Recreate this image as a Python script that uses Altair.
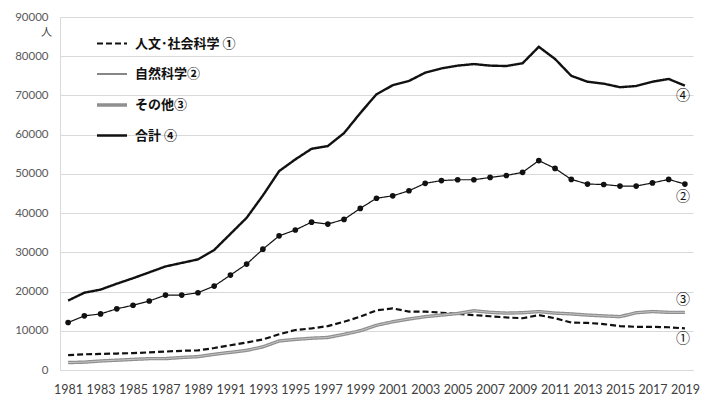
import altair as alt
import pandas as pd

years = list(range(1981, 2020))

humanities = [3800, 4000, 4100, 4200, 4300, 4500, 4700, 4900, 5000, 5600,
              6300, 7000, 7800, 9100, 10200, 10600, 11200, 12300, 13600, 15200,
              15700, 14900, 14900, 14600, 14300, 14000, 13700, 13400, 13200, 14000,
              13200, 12100, 12000, 11700, 11200, 11000, 11000, 10900, 10600]

natural = [12100, 13800, 14300, 15600, 16500, 17600, 19100, 19100, 19700, 21400,
           24200, 27000, 30800, 34200, 35700, 37700, 37200, 38400, 41200, 43800,
           44400, 45700, 47600, 48300, 48500, 48500, 49100, 49600, 50400, 53400,
           51400, 48600, 47400, 47300, 46900, 46900, 47700, 48600, 47400]

other = [1900, 2000, 2300, 2500, 2700, 2900, 2900, 3200, 3400, 4000,
         4500, 5000, 5900, 7400, 7800, 8100, 8300, 9100, 10000, 11400,
         12300, 13000, 13600, 14000, 14400, 15100, 14700, 14500, 14600, 14900,
         14500, 14300, 14000, 13800, 13600, 14600, 14900, 14700, 14700]

total = [17700, 19700, 20500, 22000, 23400, 24900, 26400, 27300, 28200, 30600,
         34700, 38800, 44500, 50700, 53700, 56400, 57100, 60400, 65500, 70300,
         72600, 73700, 75800, 76900, 77600, 78000, 77600, 77500, 78200, 82400,
         79300, 75000, 73500, 73000, 72100, 72400, 73500, 74200, 72500]

series_names = ["人文･社会科学 ①", "自然科学②", "その他③", "合計 ④"]
end_labels = ["①", "②", "③", "④"]
end_offsets = [11, 13, -12, 10]

rows = []
for name, vals in zip(series_names, [humanities, natural, other, total]):
    for y, v in zip(years, vals):
        rows.append({"year": y, "value": v, "series": name})
df = pd.DataFrame(rows)

NUM_FONT = "Lato"
JP_FONT = "Noto Sans CJK JP"

x_enc = alt.X("year:Q", scale=alt.Scale(domain=[1980.5, 2019.5], nice=False, zero=False),
              axis=alt.Axis(values=years[::2], format="d", title=None, grid=False, ticks=False,
                            domain=True, domainColor="#d9d9d9", labelFont=NUM_FONT,
                            labelFontSize=12.5, labelColor="#404040", labelPadding=13,
                            labelFlush=False, labelOverlap=False))
y_enc = alt.Y("value:Q", scale=alt.Scale(domain=[0, 90000], nice=False),
              axis=alt.Axis(values=list(range(0, 90001, 10000)), format="d", title="人",
                            titleAngle=0, titleX=-14, titleY=15, titleAlign="center",
                            titleBaseline="middle", titleFont=JP_FONT, titleFontSize=11,
                            titleFontWeight="normal", titleColor="#404040",
                            grid=True, gridColor="#d9d9d9", gridWidth=1.2, ticks=False,
                            domain=True, domainColor="#d9d9d9", labelFont=NUM_FONT,
                            labelFontSize=11.5, labelColor="#595959", labelPadding=12,
                            labelOverlap=False))

lines = alt.Chart(df).mark_line().encode(
    x=x_enc,
    y=y_enc,
    color=alt.Color("series:N", scale=alt.Scale(domain=series_names,
                    range=["#111111", "#111111", "#8f8f8f", "#111111"]),
                    legend=alt.Legend(title=None, orient="none", legendX=35, legendY=10,
                                      symbolType="stroke", symbolSize=900, rowPadding=7,
                                      labelFont=JP_FONT, labelFontSize=13,
                                      labelFontWeight="bold", labelColor="#111111",
                                      labelOffset=6, padding=0)),
    strokeDash=alt.StrokeDash("series:N", scale=alt.Scale(domain=series_names,
                              range=[[6, 3], [1, 0], [1, 0], [1, 0]])),
    strokeWidth=alt.StrokeWidth("series:N", scale=alt.Scale(type="ordinal", domain=series_names,
                                range=[2.2, 1.2, 3.4, 2.4])),
    detail="series:N",
)

inner = alt.Chart(df).transform_filter(
    alt.datum.series == series_names[2]
).mark_line(color="#c4c4c4", strokeWidth=1).encode(x=x_enc, y=y_enc)

points = alt.Chart(df).transform_filter(
    alt.datum.series == series_names[1]
).mark_point(filled=True, size=32, color="#111111", opacity=1).encode(x=x_enc, y=y_enc)

layers = [lines, inner, points]
for name, lab, off in zip(series_names, end_labels, end_offsets):
    lab_df = df[(df["series"] == name) & (df["year"] == years[-1])].assign(label=lab)
    layers.append(
        alt.Chart(lab_df).mark_text(font=JP_FONT, fontSize=14, dy=off, dx=-2,
                                    color="#111111").encode(
            x=x_enc, y=y_enc, text="label:N")
    )

chart = alt.layer(*layers).properties(
    width=633, height=353,
    autosize=alt.AutoSizeParams(type="none"),
    padding={"left": 52, "top": 9, "right": 25, "bottom": 32},
    background="white",
).configure_view(stroke=None)

chart.save("out.html", embed_options={"renderer": "svg", "actions": False})
